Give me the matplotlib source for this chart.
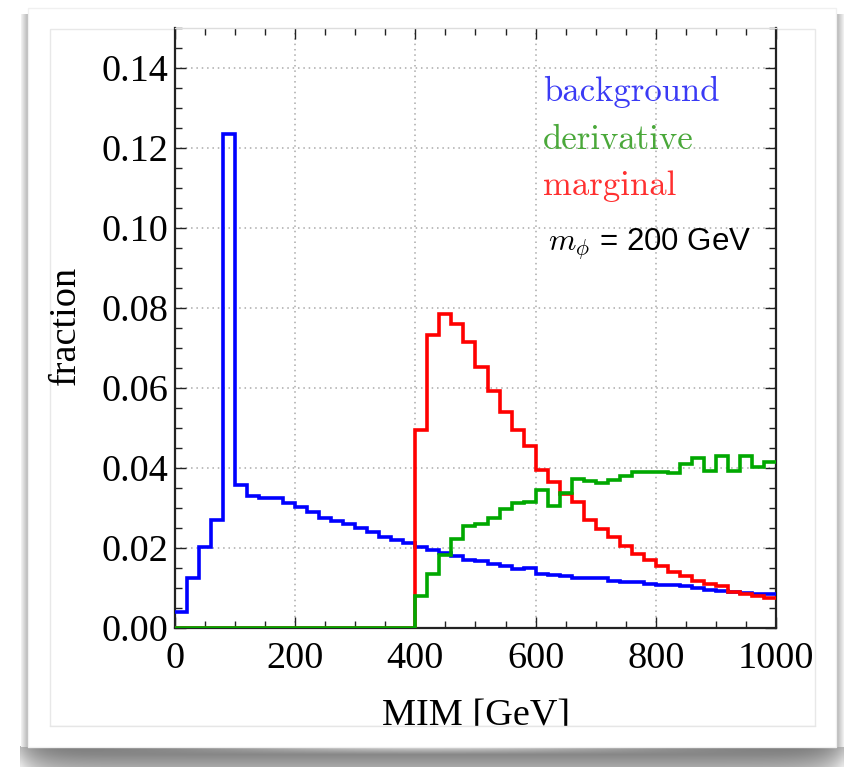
import numpy as np
import matplotlib
matplotlib.use("Agg")
import matplotlib.pyplot as plt
from matplotlib.patches import Rectangle
from matplotlib.ticker import MultipleLocator, FormatStrFormatter

plt.rcParams['mathtext.fontset'] = 'cm'

# ---------------- data ----------------
bin_edges = np.arange(0, 1001, 20)

background = [0.0040, 0.0125, 0.0202, 0.0269, 0.1234, 0.0357, 0.0330, 0.0325, 0.0323, 0.0311,
              0.0302, 0.0288, 0.0275, 0.0267, 0.0260, 0.0248, 0.0238, 0.0227, 0.0218, 0.0211,
              0.0202, 0.0193, 0.0186, 0.0180, 0.0170, 0.0166, 0.0160, 0.0154, 0.0147, 0.0148,
              0.0135, 0.0132, 0.0128, 0.0123, 0.0123, 0.0125, 0.0117, 0.0115, 0.0113, 0.0110,
              0.0106, 0.0106, 0.0103, 0.0098, 0.0095, 0.0092, 0.0090, 0.0086, 0.0085, 0.0083]

marginal = [0.0] * 20 + [
              0.0494, 0.0732, 0.0783, 0.0758, 0.0713, 0.0652, 0.0592, 0.0538, 0.0493, 0.0454,
              0.0393, 0.0365, 0.0335, 0.0313, 0.0268, 0.0246, 0.0227, 0.0204, 0.0183, 0.0168,
              0.0153, 0.0140, 0.0128, 0.0117, 0.0110, 0.0103, 0.0090, 0.0083, 0.0079, 0.0073]

derivative = [0.0] * 20 + [
              0.0079, 0.0134, 0.0182, 0.0221, 0.0253, 0.0260, 0.0274, 0.0297, 0.0311, 0.0315,
              0.0343, 0.0303, 0.0336, 0.0371, 0.0366, 0.0362, 0.0369, 0.0378, 0.0390, 0.0388,
              0.0390, 0.0386, 0.0410, 0.0423, 0.0392, 0.0429, 0.0392, 0.0429, 0.0402, 0.0415]

legend_labels = ["background", "derivative", "marginal"]
x_ticks = [0, 200, 400, 600, 800, 1000]
y_ticks = [0.00, 0.02, 0.04, 0.06, 0.08, 0.10, 0.12, 0.14]

# ---------------- figure ----------------
W, H = 845, 767
fig = plt.figure(figsize=(W / 100, H / 100), dpi=100)
fig.patch.set_facecolor('white')

# background "card" decoration
bg = fig.add_axes([0, 0, 1, 1], zorder=-10)
bg.set_xlim(0, W)
bg.set_ylim(H, 0)
bg.axis('off')
# bottom shadow (curled-paper look)
ny, nx = 40, 300
tt, xx = np.mgrid[0:1:ny * 1j, 0:1:nx * 1j]
shade = 0.44 + 0.22 * tt
shade = shade + 0.42 * np.exp(-((xx - 0.5) / 0.28) ** 2) * np.clip(1 - tt / 0.4, 0, 1)
shade = shade + 0.25 * np.exp(-(xx / 0.02)) + 0.25 * np.exp(-((1 - xx) / 0.02))
shade = np.clip(shade, 0, 0.97)
bg.imshow(np.dstack([shade] * 3), extent=(20, 844, 767, 746), aspect='auto', zorder=1,
          interpolation='bilinear')
# side shadows
side = np.linspace(0.95, 0.68, 20)[None, :] * np.ones((5, 1))
bg.imshow(np.dstack([side] * 3), extent=(21, 29, 747, 14), aspect='auto', zorder=1,
          interpolation='bilinear')
bg.imshow(np.dstack([side[:, ::-1]] * 3), extent=(836, 844, 747, 14), aspect='auto', zorder=1,
          interpolation='bilinear')
bg.add_patch(Rectangle((28.5, 8), 807.5, 739, facecolor='white', edgecolor='#f0f0f0', lw=1, zorder=2))
bg.add_patch(Rectangle((50, 29), 765, 697, facecolor='white', edgecolor='#e8e8e8', lw=1, zorder=3))

# main axes
x0, x1, ytop, ybot = 175, 776, 27.5, 627.5
ax = fig.add_axes([x0 / W, (H - ybot) / H, (x1 - x0) / W, (ybot - ytop) / H])
ax.set_xlim(0, 1000)
ax.set_ylim(0, 0.15)

ax.stairs(background, bin_edges, color='#0000ff', lw=2.6, baseline=None, zorder=3)
ax.stairs(marginal, bin_edges, color='#ff0000', lw=2.6, baseline=None, zorder=4)
ax.stairs(derivative, bin_edges, color='#00a800', lw=2.6, baseline=None, zorder=5)

ax.set_xticks(x_ticks)
ax.set_yticks(y_ticks)
ax.xaxis.set_minor_locator(MultipleLocator(50))
ax.yaxis.set_minor_locator(MultipleLocator(0.005))
ax.yaxis.set_major_formatter(FormatStrFormatter('%.2f'))
ax.grid(True, which='major', color='#aaaaaa', linestyle=(0, (1, 2.5)), lw=1.1, zorder=0)
ax.tick_params(which='both', direction='in', top=True, right=True, color='#222222', width=1.0)
ax.tick_params(which='major', length=8)
ax.tick_params(which='minor', length=5)
ax.tick_params(axis='x', which='major', pad=10)
ax.tick_params(axis='y', which='major', pad=5)
for lab in ax.get_xticklabels() + ax.get_yticklabels():
    lab.set_fontfamily('Liberation Serif')
    lab.set_fontsize(27.5)
for s in ['left', 'bottom', 'right']:
    ax.spines[s].set_color('#222222')
    ax.spines[s].set_linewidth(1.6)
ax.spines['top'].set_color('#dddddd')
ax.spines['top'].set_linewidth(1.0)

# legend block with white background
ax.add_patch(Rectangle((561, 0.1033), 356, 0.1427 - 0.1033, facecolor='white',
                       edgecolor='none', zorder=1))
leg_colors = ['#3a3af5', '#4aa83a', '#ff3030']
leg_y = [0.1316, 0.1197, 0.1082]
for lab, c, yv in zip(legend_labels, leg_colors, leg_y):
    ax.text(612, yv, lab, color=c, fontsize=25, family='cmr10', va='baseline', ha='left', zorder=6)
ax.text(620, 0.0941, r'$m_\phi$ = 200 GeV', fontsize=22.5, family='Liberation Sans',
        va='baseline', ha='left', zorder=6)

# axis labels
fig.text(476 / W, (H - 725) / H, 'MIM [GeV]', fontsize=27.5, family='Liberation Serif',
         ha='center', va='baseline')
fig.text(66 / W, (H - 325) / H, 'fraction', fontsize=27.5, family='Liberation Serif',
         rotation=90, ha='center', va='center')

# clip the x label at the inner frame (as in the reference)
fig.patches.append(Rectangle((40 / W, (H - 745) / H), 790 / W, 18.5 / H, transform=fig.transFigure,
                             facecolor='white', edgecolor='none', zorder=10))
fig.lines.append(plt.Line2D([50 / W, 815 / W], [(H - 726) / H] * 2, transform=fig.transFigure,
                            color='#e6e6e6', lw=1, zorder=11))

fig.savefig('out.png', dpi=100)
